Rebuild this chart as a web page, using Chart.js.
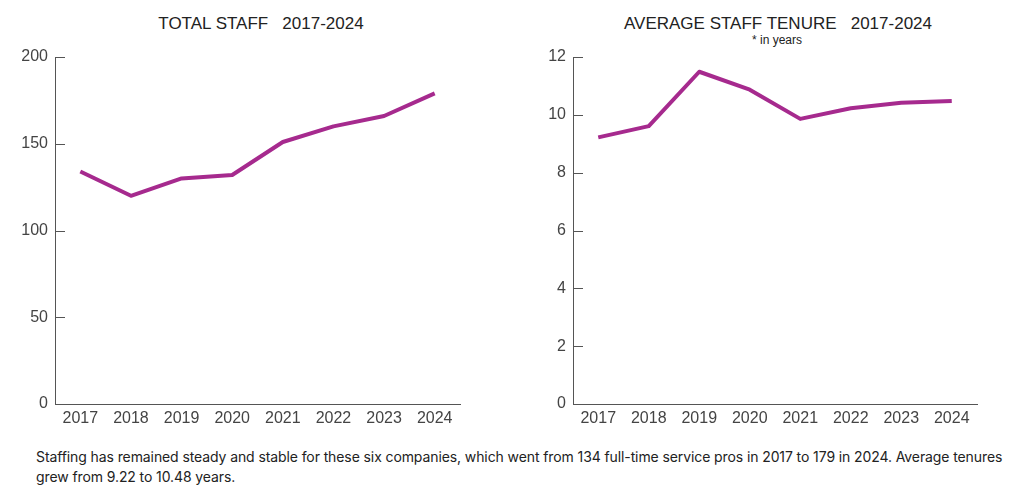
<!DOCTYPE html>
<html>
<head>
<meta charset="utf-8">
<script src="https://cdn.jsdelivr.net/npm/chart.js@4"></script>
<style>
  html, body { margin: 0; padding: 0; background: #fff; }
  body { width: 1024px; height: 503px; position: relative; overflow: hidden; font-family: Inter, "Noto Sans", sans-serif; }
  .box { position: absolute; }
  .title { position: absolute; top: 14px; font-family: "Liberation Sans", Arial, sans-serif; font-size: 17px; color: #222; white-space: pre; transform: translateX(-50%); }
  .sub { position: absolute; top: 33px; font-family: "Liberation Sans", Arial, sans-serif; font-size: 12px; color: #222; transform: translateX(-50%); }
  .caption { position: absolute; left: 36px; top: 447px; width: 978px; font-size: 14px; letter-spacing: -0.1px; line-height: 20px; color: #222; }
</style>
</head>
<body>
<div class="title" style="left:261px">TOTAL STAFF   2017-2024</div>
<div class="title" style="left:778px">AVERAGE STAFF TENURE   2017-2024</div>
<div class="sub" style="left:777px">* in years</div>

<div class="box" style="left:10px;top:40px;width:460px;height:394px"><canvas id="staffChart"></canvas></div>
<div class="box" style="left:528px;top:40px;width:459px;height:394px"><canvas id="tenureChart"></canvas></div>

<div class="caption">Staffing has remained steady and stable for these six companies, which went from 134 full-time service pros in 2017 to 179 in 2024. Average tenures grew from 9.22 to 10.48 years.</div>

<script>
// Data
const years = ['2017', '2018', '2019', '2020', '2021', '2022', '2023', '2024'];
const totalStaff = [134, 120, 130, 132, 151, 160, 166, 179];
const avgTenure = [9.22, 9.61, 11.49, 10.87, 9.86, 10.23, 10.42, 10.48];
const staffTicks = [0, 50, 100, 150, 200];
const tenureTicks = [0, 2, 4, 6, 8, 10, 12];

const lineColor = '#a62a8e';
const axisColor = '#555';
const textColor = '#444';

// short tick marks drawn inside the plot, to the right of the y axis
const innerTicks = {
    id: 'innerTicks',
    afterDraw(chart) {
        const y = chart.scales.y;
        const ctx = chart.ctx;
        ctx.save();
        ctx.strokeStyle = axisColor;
        ctx.lineWidth = 1;
        y.ticks.forEach(t => {
            if (t.value === y.min) return;
            const py = Math.round(y.getPixelForValue(t.value)) + 0.5;
            ctx.beginPath();
            ctx.moveTo(y.right, py);
            ctx.lineTo(y.right + 10, py);
            ctx.stroke();
        });
        ctx.restore();
    }
};

function makeChart(id, values, ticks) {
    const ctx = document.getElementById(id).getContext('2d');
    return new Chart(ctx, {
        type: 'line',
        data: {
            labels: years,
            datasets: [{
                data: values,
                borderColor: lineColor,
                borderWidth: 4,
                pointRadius: 0,
                tension: 0,
                borderJoinStyle: 'round'
            }]
        },
        options: {
            responsive: true,
            maintainAspectRatio: false,
            animation: false,
            layout: { padding: { top: 17, right: 10, left: 0, bottom: 0 } },
            plugins: { legend: { display: false }, tooltip: { enabled: false } },
            scales: {
                x: {
                    offset: true,
                    grid: { display: false, drawTicks: false },
                    border: { display: true, color: axisColor, width: 1 },
                    ticks: { color: textColor, padding: 5, font: { family: 'Liberation Sans', size: 16 } },
                    afterFit: s => { s.height = 30; }
                },
                y: {
                    min: ticks[0],
                    max: ticks[ticks.length - 1],
                    afterBuildTicks: s => { s.ticks = ticks.map(v => ({ value: v })); },
                    grid: { display: false, drawTicks: false },
                    border: { display: true, color: axisColor, width: 1 },
                    ticks: { color: textColor, padding: 7, font: { family: 'Liberation Sans', size: 16 } },
                    afterFit: s => { s.width = 45; }
                }
            }
        },
        plugins: [innerTicks]
    });
}

makeChart('staffChart', totalStaff, staffTicks);
makeChart('tenureChart', avgTenure, tenureTicks);
</script>
</body>
</html>
